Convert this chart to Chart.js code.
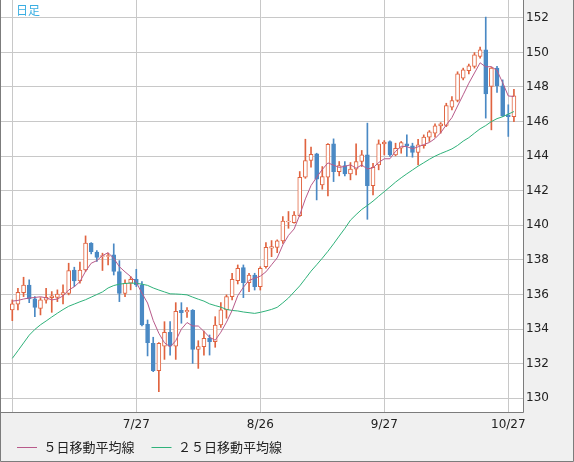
<!DOCTYPE html>
<html><head><meta charset="utf-8">
<script src="https://cdn.jsdelivr.net/npm/chart.js@4/dist/chart.umd.min.js"></script>
<style>
html,body{margin:0;padding:0;background:#f0f0f0;}
#wrap{position:relative;width:574px;height:462px;}
#lbl{position:absolute;left:16px;top:3px;font-size:12px;font-family:"Noto Sans CJK JP",sans-serif;color:#3aaee2;line-height:14px;}
</style></head><body>
<div id="wrap"><canvas id="c" width="574" height="462"></canvas><div id="lbl">日足</div></div>
<script>
const dates = ['6/27','6/28','6/29','6/30','7/1','7/4','7/5','7/6','7/7','7/8',
 '7/11','7/12','7/13','7/14','7/15','7/18','7/19','7/20','7/21','7/22',
 '7/25','7/26','7/27','7/28','7/29','8/1','8/2','8/3','8/4','8/5',
 '8/8','8/9','8/10','8/11','8/12','8/15','8/16','8/17','8/18','8/19',
 '8/22','8/23','8/24','8/25','8/26','8/29','8/30','8/31','9/1','9/2',
 '9/5','9/6','9/7','9/8','9/9','9/12','9/13','9/14','9/15','9/16',
 '9/19','9/20','9/21','9/22','9/23','9/26','9/27','9/28','9/29','9/30',
 '10/3','10/4','10/5','10/6','10/7','10/10','10/11','10/12','10/13','10/14',
 '10/17','10/18','10/19','10/20','10/21','10/24','10/25','10/26','10/27','10/28'];

const opens = [135.11,135.44,136.11,136.54,135.75,135.19,135.67,135.82,135.84,135.98,
 136.07,137.42,136.79,137.42,138.97,138.45,138.20,138.20,138.29,137.33,
 136.07,136.65,136.88,136.56,134.28,133.18,131.60,133.02,133.82,133.02,
 135.09,134.99,135.09,132.83,132.99,133.47,133.28,134.24,135.11,135.88,
 136.80,137.56,136.69,137.13,136.46,137.61,138.68,138.73,139.10,140.20,
 140.16,140.56,142.78,143.75,144.13,142.34,142.78,144.71,143.11,143.46,
 142.98,143.25,143.69,144.07,142.30,143.50,144.71,144.85,144.07,144.46,
 144.71,144.60,144.21,144.60,145.10,145.33,145.75,145.78,146.83,147.22,
 148.51,148.95,149.19,149.76,150.15,148.03,149.09,148.07,146.39,146.29];

const highs = [135.69,136.36,137.00,136.85,135.88,135.82,136.36,136.17,136.27,136.56,
 137.81,137.58,137.87,139.39,139.00,138.54,138.39,138.39,138.93,137.96,
 136.85,137.04,137.46,136.75,134.53,133.53,133.22,134.43,134.43,135.53,
 135.53,135.24,135.13,133.33,133.89,133.66,134.72,135.53,135.98,137.23,
 137.71,137.71,137.23,137.23,137.61,139.00,139.12,139.16,140.51,140.80,
 140.80,143.11,144.98,144.52,144.17,143.40,144.73,145.00,143.69,143.69,
 143.63,144.71,144.33,145.91,143.59,144.94,144.90,144.88,144.75,144.85,
 145.23,144.75,144.98,145.23,145.48,145.87,145.94,147.06,147.45,148.88,
 149.09,149.32,149.99,150.30,152.04,149.13,149.19,148.41,146.97,147.87];

const lows = [134.49,135.11,135.88,135.53,134.72,134.82,135.50,134.97,135.59,135.46,
 135.98,136.46,136.65,137.33,138.35,137.91,137.39,137.71,137.13,135.59,
 135.88,136.27,136.46,134.18,132.45,131.54,130.39,132.25,132.50,132.25,
 134.34,134.68,132.02,131.73,132.50,132.50,132.95,134.10,134.63,135.69,
 136.61,135.82,136.17,136.26,136.26,137.52,138.19,138.42,138.96,139.83,
 140.12,140.51,142.72,143.36,141.47,142.09,141.70,142.53,142.86,142.86,
 142.63,142.92,143.40,140.35,141.76,143.21,144.07,143.98,144.02,144.17,
 143.98,143.94,143.50,144.46,144.85,145.10,145.33,145.71,146.68,147.14,
 148.41,148.76,149.09,149.67,146.20,145.52,147.68,146.29,145.14,146.00];

const closes = [135.46,136.13,136.54,135.75,135.25,135.69,135.84,135.92,136.02,136.11,
 137.39,136.79,137.42,138.97,138.48,138.14,138.25,138.25,137.33,136.07,
 136.65,136.88,136.56,134.24,133.22,131.60,133.18,133.82,133.02,135.03,
 134.95,135.09,132.83,132.99,133.47,133.28,134.24,135.11,135.88,136.88,
 137.52,136.69,137.13,136.46,137.52,138.73,138.77,139.10,140.25,140.25,
 140.60,142.78,143.75,144.11,142.67,142.82,144.69,143.11,143.46,142.98,
 143.25,143.69,144.07,142.30,143.36,144.71,144.81,144.07,144.46,144.79,
 144.61,144.21,144.65,145.10,145.40,145.75,145.87,146.92,147.22,148.76,
 148.99,149.22,149.86,150.15,147.60,149.09,148.07,146.33,146.29,147.49];

const ma5 = [135.62,135.66,135.74,135.80,135.83,135.87,135.81,135.69,135.74,135.92,
 136.26,136.45,136.75,137.34,137.81,137.96,138.25,138.42,138.09,137.61,
 137.31,137.04,136.70,136.08,135.51,134.50,133.76,133.21,132.97,133.33,
 134.00,134.38,134.18,134.18,133.87,133.53,133.36,133.82,134.40,135.08,
 135.93,136.42,136.82,136.94,137.06,137.31,137.72,138.12,138.87,139.42,
 139.79,140.60,141.53,142.30,142.78,143.23,143.61,143.48,143.35,143.41,
 143.50,143.30,143.49,143.26,143.33,143.63,143.85,143.85,144.28,144.57,
 144.55,144.43,144.54,144.67,144.79,145.02,145.35,145.81,146.23,146.90,
 147.55,148.22,148.81,149.40,149.16,149.18,148.95,148.25,147.48,147.45];

const ma25 = [132.31,132.75,133.20,133.65,133.98,134.25,134.47,134.70,134.92,135.13,
 135.32,135.45,135.58,135.70,135.85,136.00,136.15,136.38,136.52,136.60,
 136.64,136.66,136.65,136.60,136.53,136.38,136.26,136.15,136.04,136.03,
 136.01,135.98,135.85,135.73,135.62,135.46,135.36,135.27,135.14,135.08,
 135.05,134.99,134.95,134.91,134.97,135.05,135.14,135.26,135.52,135.80,
 136.15,136.50,136.92,137.35,137.72,138.10,138.50,138.93,139.38,139.82,
 140.30,140.62,140.92,141.15,141.40,141.68,141.95,142.22,142.50,142.75,
 142.98,143.20,143.42,143.62,143.82,144.00,144.15,144.28,144.42,144.62,
 144.87,145.07,145.33,145.58,145.77,146.00,146.17,146.28,146.43,146.58];

const gridDates = ['6/27','7/27','8/26','9/27','10/27'];
const yTicks = [130,132,134,136,138,140,142,144,146,148,150,152];
const seriesNames = ['５日移動平均線','２５日移動平均線'];

const UP = '#e0633f', DOWN = '#4a89c4', MA5C = '#b85a8a', MA25C = '#2fb27a';
const GRID = '#c8c8c8';
const isUp = i => closes[i] >= opens[i];

const frame = {
  id: 'frame',
  beforeDraw(chart) {
    const {ctx, chartArea: a, width, height} = chart;
    ctx.save();
    ctx.fillStyle = '#f0f0f0';
    ctx.fillRect(0, 0, width, height);
    ctx.fillStyle = '#ffffff';
    ctx.fillRect(a.left, a.top, a.right - a.left, a.bottom - a.top);
    ctx.restore();
  },
  afterDraw(chart) {
    const {ctx, chartArea: a, width, height} = chart;
    ctx.save();
    ctx.strokeStyle = '#7c7c7c';
    ctx.lineWidth = 1;
    ctx.beginPath();
    ctx.moveTo(a.right + 0.5, 0);
    ctx.lineTo(a.right + 0.5, a.bottom + 0.5);
    ctx.lineTo(0, a.bottom + 0.5);
    ctx.moveTo(0.5, 0);
    ctx.lineTo(0.5, height - 0.5);
    ctx.lineTo(width - 0.5, height - 0.5);
    ctx.lineTo(width - 0.5, 0);
    ctx.stroke();
    ctx.restore();
  },
  afterLayout(chart) {
    if (chart.legend) { chart.legend.top += 2; chart.legend.bottom += 2; }
    const xs = chart.scales.x;
    if (xs) { xs.bottom = xs.top + 26; xs.height = 26; }
  }
};

new Chart(document.getElementById('c'), {
  type: 'bar',
  data: {
    datasets: [
      { type: 'line', label: seriesNames[0], data: ma5.map((v, i) => ({x: i, y: v})),
        borderColor: MA5C, backgroundColor: MA5C, borderWidth: 1, pointRadius: 0, tension: 0, order: 0 },
      { type: 'line', label: seriesNames[1], data: ma25.map((v, i) => ({x: i, y: v})),
        borderColor: MA25C, backgroundColor: MA25C, borderWidth: 1, pointRadius: 0, tension: 0, order: 0 },
      { type: 'bar', label: 'body', data: dates.map((d, i) => ({x: i, y: [opens[i], closes[i]]})),
        backgroundColor: c => isUp(c.dataIndex) ? '#ffffff' : DOWN,
        borderColor: c => isUp(c.dataIndex) ? UP : DOWN,
        borderWidth: 1, borderSkipped: false, barThickness: 4, grouped: false, order: 1 },
      { type: 'bar', label: 'wick', data: dates.map((d, i) => ({x: i, y: [lows[i], highs[i]]})),
        backgroundColor: c => isUp(c.dataIndex) ? UP : DOWN,
        borderWidth: 0, barThickness: 1, grouped: false, order: 2 }
    ]
  },
  options: {
    responsive: false,
    animation: false,
    events: [],
    layout: { padding: 0 },
    plugins: {
      tooltip: { enabled: false },
      legend: {
        position: 'bottom', align: 'start',
        labels: {
          filter: it => it.datasetIndex < 2,
          usePointStyle: true, pointStyle: 'line', pointStyleWidth: 20,
          padding: 17, color: '#222',
          font: { family: '"Noto Sans CJK JP", sans-serif', size: 13 }
        }
      }
    },
    scales: {
      x: {
        type: 'linear', min: -2.182, max: 90.61, offset: false,
        afterBuildTicks: s => { s.ticks = gridDates.map(d => ({value: dates.indexOf(d)})); },
        ticks: {
          autoSkip: false, maxRotation: 0, padding: 6, color: '#222',
          font: { family: 'DejaVu Sans', size: 12 },
          callback: v => (dates[v] === gridDates[0] ? '' : dates[v])
        },
        grid: { color: GRID, drawTicks: false, offset: false },
        border: { display: false },
        afterFit: s => { s.height = 10; s.paddingLeft = 0; s.paddingRight = 0; }
      },
      y: {
        position: 'right', min: 129.208, max: 153.029,
        afterBuildTicks: s => { s.ticks = yTicks.map(v => ({value: v})); },
        ticks: { padding: 3, color: '#222', font: { family: 'DejaVu Sans', size: 12 }, callback: v => String(v) },
        grid: { color: GRID, drawTicks: false },
        border: { display: false },
        afterFit: s => { s.width = 51; s.paddingTop = 0; s.paddingBottom = 0; }
      }
    }
  },
  plugins: [frame]
});
</script>
</body></html>
